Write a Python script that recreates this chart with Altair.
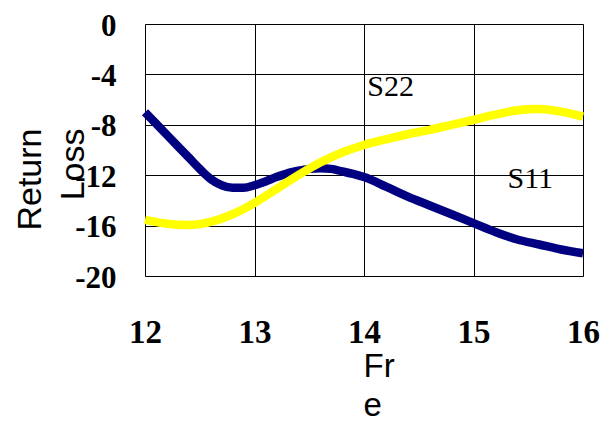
import altair as alt
import pandas as pd

freq_s11 = [12.0, 12.1, 12.2, 12.3, 12.4, 12.5, 12.6, 12.7, 12.8, 12.9, 13.0, 13.1, 13.2, 13.3, 13.4,
            13.5, 13.6, 13.7, 13.8, 13.9, 14.0, 14.2, 14.4, 14.6, 14.8, 15.0, 15.2, 15.4, 15.6, 15.8, 16.0]
s11 = [-7.0, -7.9, -8.8, -9.7, -10.6, -11.5, -12.3, -12.8, -13.0, -13.0, -12.8, -12.5, -12.15, -11.85, -11.65,
       -11.5, -11.45, -11.5, -11.7, -11.9, -12.15, -12.9, -13.7, -14.4, -15.1, -15.8, -16.5, -17.1, -17.5, -17.9, -18.2]

freq_s22 = [12.0, 12.2, 12.4, 12.6, 12.8, 13.0, 13.2, 13.4, 13.6, 13.8, 14.0, 14.2, 14.4, 14.6, 14.8,
            15.0, 15.2, 15.4, 15.6, 15.8, 16.0]
s22 = [-15.55, -15.85, -15.95, -15.7, -15.1, -14.2, -13.1, -12.0, -11.0, -10.2, -9.6, -9.15, -8.75, -8.4, -8.0,
       -7.6, -7.2, -6.85, -6.75, -6.95, -7.35]

label_text = ["S22", "S11"]
label_x = [14.03, 15.31]
label_y = [-5.71, -13.02]

x_ticks = [12, 13, 14, 15, 16]
y_ticks = [-20, -16, -12, -8, -4, 0]

df11 = pd.DataFrame({"f": freq_s11, "v": s11})
df22 = pd.DataFrame({"f": freq_s22, "v": s22})
dlab = pd.DataFrame({"t": label_text, "f": label_x, "v": label_y})

xs = alt.Scale(domain=[12, 16], nice=False, zero=False)
ys = alt.Scale(domain=[-20, 0], nice=False, zero=False)

xaxis = alt.Axis(values=x_ticks, format="d", grid=True, gridColor="black", gridWidth=1, gridOpacity=1,
                 ticks=False, tickSize=0, domain=False,
                 labelFont="Liberation Serif", labelFontWeight="bold", labelFontSize=33, labelColor="black",
                 labelPadding=40, labelFlush=False,
                 title=["Fr", "e"], titleFont="Liberation Sans", titleFontSize=33, titleFontWeight="normal",
                 titleColor="black", titleAlign="left", titleBaseline="alphabetic",
                 titleX=218, titleY=100, titleLineHeight=39)
yaxis = alt.Axis(values=y_ticks, labelExpr="'' + datum.value", grid=True, gridColor="black", gridWidth=1,
                 gridOpacity=1, ticks=False, tickSize=0, domain=False,
                 labelFont="Liberation Serif", labelFontWeight="bold", labelFontSize=31, labelColor="black",
                 labelPadding=29, labelOffset=2, labelFlush=False,
                 title=["Return", "Loss"], titleFont="Liberation Sans", titleFontSize=34, titleFontWeight="normal",
                 titleColor="black", titleAngle=270, titleAlign="right", titleBaseline="alphabetic",
                 titleX=-105, titleY=104, titleLineHeight=43)

l11 = alt.Chart(df11).mark_line(color="#000080", strokeWidth=8.5, interpolate="monotone").encode(
    x=alt.X("f:Q", scale=xs, axis=xaxis),
    y=alt.Y("v:Q", scale=ys, axis=yaxis),
)
l22 = alt.Chart(df22).mark_line(color="#FFFF00", strokeWidth=8.5, interpolate="monotone").encode(
    x=alt.X("f:Q", scale=xs),
    y=alt.Y("v:Q", scale=ys),
)
txt = alt.Chart(dlab).mark_text(font="Liberation Serif", fontSize=30, align="left", baseline="alphabetic",
                                color="black").encode(
    x=alt.X("f:Q", scale=xs),
    y=alt.Y("v:Q", scale=ys),
    text="t:N",
)

chart = (l11 + l22 + txt).properties(
    width=438, height=252,
    autosize=alt.AutoSizeParams(type="none"),
    padding={"left": 137, "top": 16, "right": 20, "bottom": 141},
).configure_view(stroke="#808080", strokeWidth=2.5).configure(background="white")

chart.save("out.html", embed_options={"renderer": "svg", "actions": False})
